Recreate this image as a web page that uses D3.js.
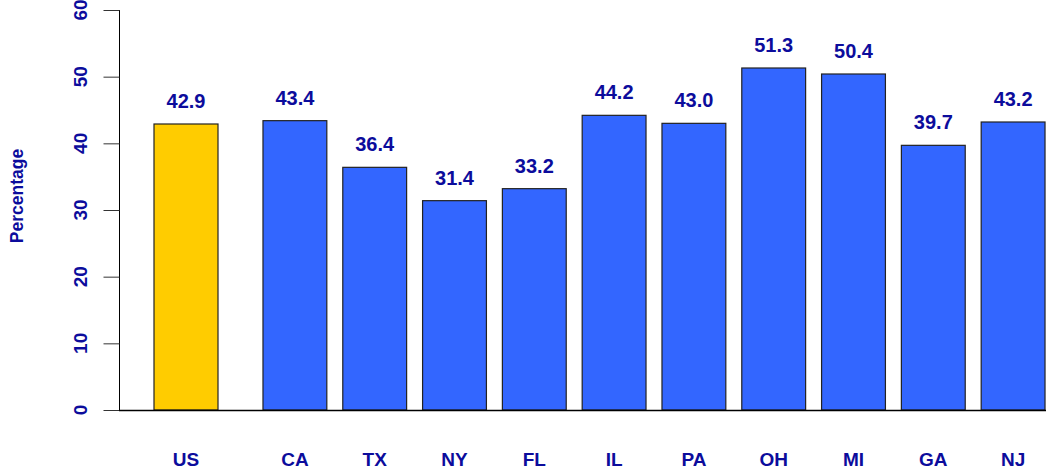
<!DOCTYPE html>
<html>
<head>
<meta charset="utf-8">
<script src="https://cdn.jsdelivr.net/npm/d3@7"></script>
<style>
  body { margin: 0; background: #fff; }
  text { font-family: "Liberation Sans", Arial, sans-serif; font-weight: bold; fill: #0c0c9c; }
</style>
</head>
<body>
<div id="chart"></div>
<script>
// data
var usLabel = "US";
var usValue = 42.9;
var states = ["CA", "TX", "NY", "FL", "IL", "PA", "OH", "MI", "GA", "NJ"];
var stateValues = [43.4, 36.4, 31.4, 33.2, 44.2, 43.0, 51.3, 50.4, 39.7, 43.2];
var yTicks = [0, 10, 20, 30, 40, 50, 60];

var width = 1046, height = 474;

var svg = d3.select("#chart")
    .append("svg")
    .attr("width", width)
    .attr("height", height);

var y = d3.scaleLinear().domain([0, 60]).range([410, 10]);

// US sits on its own, then a gap, then the states
var xUS = d3.scaleBand().domain([usLabel]).range([146, 226])
    .paddingInner(0.2).paddingOuter(0.1);
var xState = d3.scaleBand().domain(states).range([255, 1053])
    .paddingInner(0.2).paddingOuter(0.1);

var data = [{ k: usLabel, v: usValue, x: xUS(usLabel), w: xUS.bandwidth(), c: "#ffcc00" }];
states.forEach(function(s, i) {
  data.push({ k: s, v: stateValues[i], x: xState(s), w: xState.bandwidth(), c: "#3366ff" });
});

// y axis
var yAxis = svg.append("g")
    .attr("transform", "translate(119.5,0)")
    .call(d3.axisLeft(y).tickValues(yTicks).tickSize(16).tickFormat(""));
yAxis.select(".domain").attr("d", "M0," + y(60) + "V" + y(0)).attr("stroke", "#000");
yAxis.selectAll(".tick line").attr("stroke", "#333");

svg.append("g").selectAll("text")
    .data(yTicks)
    .enter().append("text")
    .attr("transform", function(d) { return "translate(87," + y(d) + ") rotate(-90)"; })
    .attr("text-anchor", "middle")
    .style("font-size", "19px")
    .text(function(d) { return d; });

svg.append("text")
    .attr("transform", "translate(23,196) rotate(-90)")
    .attr("text-anchor", "middle")
    .style("font-size", "17.5px")
    .text("Percentage");

// bars
svg.selectAll(".bar")
    .data(data)
    .enter().append("rect")
    .attr("class", "bar")
    .attr("x", function(d) { return d.x; })
    .attr("y", function(d) { return y(d.v); })
    .attr("width", function(d) { return d.w; })
    .attr("height", function(d) { return y(0) - y(d.v); })
    .attr("fill", function(d) { return d.c; })
    .attr("stroke", "#222")
    .attr("stroke-width", 1.2);

// baseline
svg.append("line")
    .attr("x1", 119)
    .attr("x2", width)
    .attr("y1", y(0) + 0.5)
    .attr("y2", y(0) + 0.5)
    .style("stroke", "#000")
    .style("stroke-width", 1.5);

// value labels
svg.selectAll(".val")
    .data(data)
    .enter().append("text")
    .attr("class", "val")
    .attr("x", function(d) { return d.x + d.w / 2; })
    .attr("y", function(d) { return y(d.v) - 16; })
    .attr("text-anchor", "middle")
    .style("font-size", "20px")
    .text(function(d) { return d.v.toFixed(1); });

// category labels
svg.selectAll(".cat")
    .data(data)
    .enter().append("text")
    .attr("class", "cat")
    .attr("x", function(d) { return d.x + d.w / 2; })
    .attr("y", 466)
    .attr("text-anchor", "middle")
    .style("font-size", "19px")
    .text(function(d) { return d.k; });
</script>
</body>
</html>
